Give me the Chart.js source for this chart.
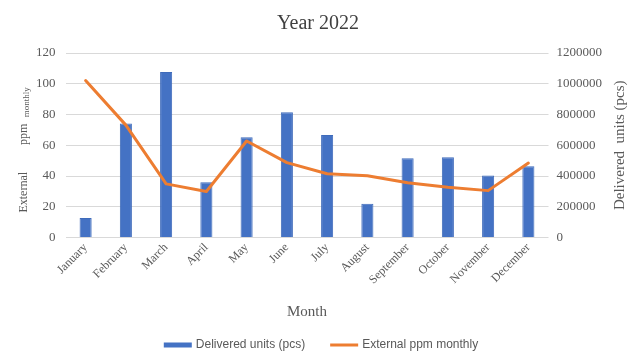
<!DOCTYPE html>
<html lang="en">
<head>
<meta charset="UTF-8">
<title>Year 2022</title>
<script src="https://cdn.jsdelivr.net/npm/chart.js"></script>
<style>
  html, body { margin: 0; padding: 0; background: #ffffff; }
  #wrap { width: 636px; height: 356px; }
</style>
</head>
<body>
<div id="wrap"><canvas id="grafico"></canvas></div>
<script>
  // dados
  const meses = ['January', 'February', 'March', 'April', 'May', 'June', 'July',
                 'August', 'September', 'October', 'November', 'December'];
  const unidadesEntregues = [127000, 742000, 1076000, 360000, 652000, 814000,
                             666000, 220000, 515000, 522000, 404000, 463000];
  const ppmExterno = [102.1, 73.1, 34.9, 29.9, 62.8, 48.7, 41.5, 40.2, 35.6, 32.7, 30.5, 48.4];

  const corTexto = '#595959';
  const serif = "'Liberation Serif', 'Times New Roman', serif";
  const sans = "'Liberation Sans', Arial, sans-serif";

  // títulos dos eixos Y e legenda desenhados à mão
  const extras = {
    id: 'extras',
    afterDraw(chart) {
      const ctx = chart.ctx;
      const area = chart.chartArea;
      const cy = (area.top + area.bottom) / 2;
      ctx.save();
      ctx.fillStyle = corTexto;
      ctx.textAlign = 'center';
      ctx.textBaseline = 'middle';

      // eixo esquerdo: "External  ppm" + "monthly" menor
      ctx.save();
      ctx.translate(24, cy);
      ctx.rotate(-Math.PI / 2);
      ctx.font = '12px ' + serif;
      ctx.fillText('External', -47, 0);
      ctx.fillText('ppm', 11, 0);
      ctx.font = '9px ' + serif;
      ctx.fillText('monthly', 43, 3);
      ctx.restore();

      // eixo direito, lido de baixo para cima
      ctx.save();
      ctx.translate(620, cy);
      ctx.rotate(-Math.PI / 2);
      ctx.font = '15px ' + serif;
      ctx.fillText('Delivered  units (pcs)', 0, 0);
      ctx.restore();

      // legenda
      const ds = chart.data.datasets;
      ctx.font = '12px ' + sans;
      ctx.textAlign = 'left';
      const caixa = 28, gap = 4, entre = 25;
      const w0 = ctx.measureText(ds[0].label).width;
      const w1 = ctx.measureText(ds[1].label).width;
      const total = caixa + gap + w0 + entre + caixa + gap + w1;
      let x = 321 - total / 2;
      const y = 345;
      ctx.fillStyle = ds[0].backgroundColor;
      ctx.fillRect(x, y - 2.5, caixa, 5);
      ctx.fillStyle = corTexto;
      ctx.fillText(ds[0].label, x + caixa + gap, y);
      x += caixa + gap + w0 + entre;
      ctx.strokeStyle = ds[1].borderColor;
      ctx.lineWidth = 3;
      ctx.beginPath();
      ctx.moveTo(x, y);
      ctx.lineTo(x + caixa, y);
      ctx.stroke();
      ctx.fillText(ds[1].label, x + caixa + gap, y);

      ctx.restore();
    }
  };

  new Chart(document.getElementById('grafico').getContext('2d'), {
    data: {
      labels: meses,
      datasets: [
        {
          type: 'bar',
          label: 'Delivered units (pcs)',
          data: unidadesEntregues,
          yAxisID: 'y1',
          backgroundColor: '#4472C4',
          borderColor: '#3F6BBA',
          borderWidth: 1,
          barPercentage: 0.3,
          categoryPercentage: 1,
          order: 2
        },
        {
          type: 'line',
          label: 'External ppm monthly',
          data: ppmExterno,
          yAxisID: 'y',
          borderColor: '#ED7D31',
          backgroundColor: '#ED7D31',
          borderWidth: 3,
          pointRadius: 0,
          tension: 0,
          borderJoinStyle: 'round',
          borderCapStyle: 'round',
          order: 1
        }
      ]
    },
    options: {
      responsive: true,
      maintainAspectRatio: false,
      animation: false,
      layout: { padding: { left: 26, right: 26, top: 0, bottom: 31 } },
      plugins: {
        title: {
          display: true,
          text: 'Year 2022',
          color: '#404040',
          font: { family: serif, size: 20, weight: 'normal' },
          padding: { top: 12, bottom: 17 }
        },
        legend: { display: false },
        tooltip: { enabled: false }
      },
      scales: {
        x: {
          grid: { display: false, drawTicks: false },
          border: { display: false },
          afterFit(scale) {
            scale.paddingLeft = 0;
            scale.paddingRight = 0;
          },
          ticks: {
            color: corTexto,
            font: { family: serif, size: 12 },
            minRotation: 45,
            maxRotation: 45,
            padding: 3
          },
          title: {
            display: true,
            text: 'Month',
            color: corTexto,
            font: { family: serif, size: 15 },
            padding: { top: 13, bottom: 4 }
          }
        },
        y: {
          position: 'left',
          min: 0,
          max: 120,
          grid: { color: '#D9D9D9', lineWidth: 1, drawTicks: false },
          border: { display: false },
          ticks: {
            stepSize: 20,
            color: corTexto,
            font: { family: serif, size: 13 },
            padding: 10
          }
        },
        y1: {
          position: 'right',
          min: 0,
          max: 1200000,
          grid: { drawOnChartArea: false, drawTicks: false },
          border: { display: false },
          ticks: {
            stepSize: 200000,
            color: corTexto,
            font: { family: serif, size: 13 },
            padding: 8,
            callback: v => String(v)
          }
        }
      }
    },
    plugins: [extras]
  });
</script>
</body>
</html>
